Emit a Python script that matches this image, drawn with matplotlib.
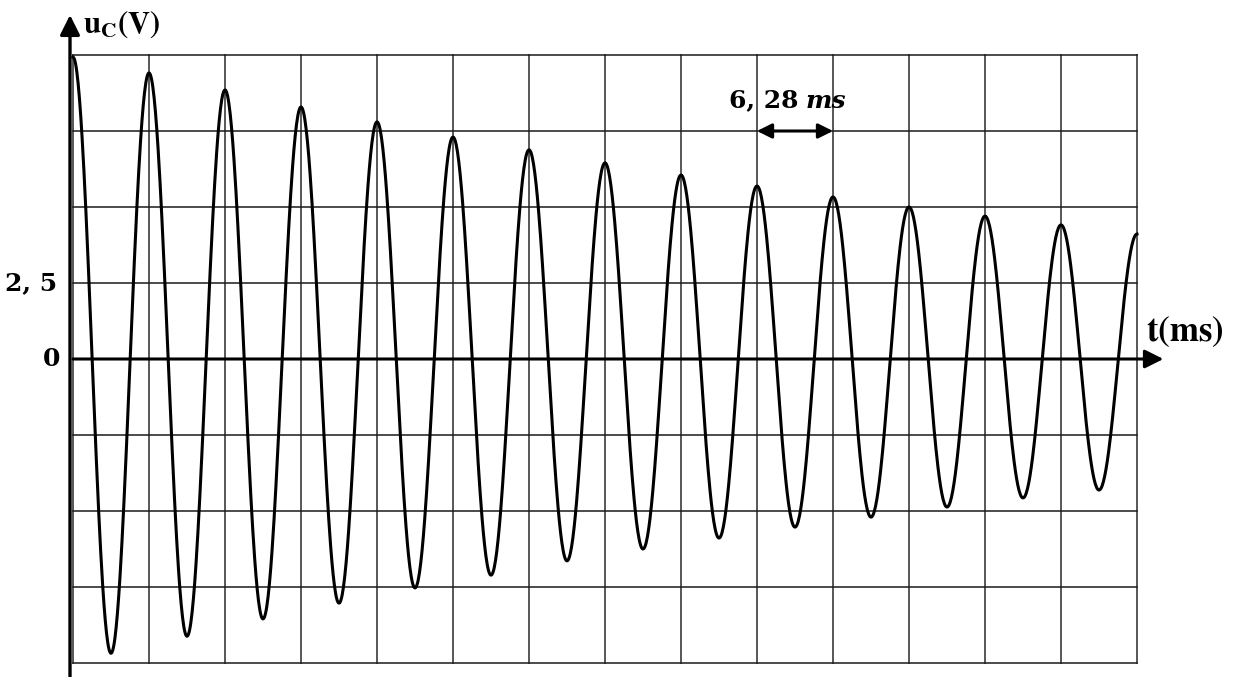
#==========================================================================
# Damped oscillation u_C(t) on a graph-paper grid
#==========================================================================
import numpy as np
import matplotlib.pyplot as plt

plt.rcParams['mathtext.fontset'] = 'stix'

# values
half_period = 3.14          # ms, half of 6,28 ms
peaks_v = [9.93, 9.41, 8.85, 8.29, 7.80, 7.30, 6.88, 6.45, 6.05, 5.69, 5.33, 5.00, 4.70, 4.41, 4.11]
troughs_v = [-9.68, -9.12, -8.55, -8.03, -7.53, -7.11, -6.64, -6.25, -5.89, -5.53, -5.20, -4.87, -4.57, -4.31]
y_ticks = [0, 2.5]
y_tick_labels = ['0', '2, 5']

# extrema alternate: peak, trough, peak, ...
ext_v = []
for i in range(len(peaks_v)):
    ext_v.append(peaks_v[i])
    if i < len(troughs_v):
        ext_v.append(troughs_v[i])
ext_t = [k * half_period for k in range(len(ext_v))]

# smooth half-cosine link between consecutive extrema
t_curve, v_curve = [], []
for i in range(len(ext_v) - 1):
    tt = np.linspace(ext_t[i], ext_t[i + 1], 60)
    ph = np.pi * (tt - ext_t[i]) / (ext_t[i + 1] - ext_t[i])
    vv = (ext_v[i] + ext_v[i + 1]) / 2 + (ext_v[i] - ext_v[i + 1]) / 2 * np.cos(ph)
    t_curve.extend(tt)
    v_curve.extend(vv)

#%%
fig = plt.figure(figsize=(12.34, 6.77), dpi=100)
ax = fig.add_axes([0, 0, 1, 1])
sx = 6.28 / 76
sy = 2.5 / 76
ax.set_xlim(-73 * sx, (1234 - 73) * sx)
ax.set_ylim(-(677 - 359) * sy, 359 * sy)
ax.axis('off')

t_end = 14 * 6.28
# grid
for k in range(15):
    ax.plot([k * 6.28, k * 6.28], [-10, 10], color='#4a4a4a', lw=1.3, zorder=1)
for y in np.arange(-10, 10.1, 2.5):
    ax.plot([0, t_end], [y, y], color='#1a1a1a', lw=1.1, zorder=1)

# curve
ax.plot(t_curve, v_curve, color='black', lw=2.2, zorder=3)

# axes with arrows
x0 = -3 * sx
ax.annotate('', xy=(90.1, 0), xytext=(0, 0),
            arrowprops=dict(arrowstyle='-|>', lw=2.2, color='black', mutation_scale=28,
                            shrinkA=0, shrinkB=0), zorder=4)
ax.annotate('', xy=(x0, 344 * sy), xytext=(x0, -(677 - 359) * sy),
            arrowprops=dict(arrowstyle='-|>', lw=2.4, color='black', mutation_scale=30,
                            shrinkA=0, shrinkB=0), zorder=4)

# 6,28 ms marker
ax.annotate('', xy=(9 * 6.28, 7.5), xytext=(10 * 6.28, 7.5),
            arrowprops=dict(arrowstyle='<|-|>', lw=2.2, color='black', mutation_scale=22,
                            shrinkA=0, shrinkB=0), zorder=4)
ax.text(54.2, 8.5, '6, 28', ha='left', va='center', fontsize=18,
        family='DejaVu Serif', fontweight='bold')
ax.text(60.5, 8.5, 'ms', ha='left', va='center', fontsize=18,
        family='DejaVu Serif', fontweight='bold', style='italic')

# labels
ax.text(-13 * sx, y_ticks[0], y_tick_labels[0], ha='right', va='center', fontsize=18,
        family='DejaVu Serif', fontweight='bold')
ax.text(-16 * sx, y_ticks[1], y_tick_labels[1], ha='right', va='center', fontsize=18,
        family='DejaVu Serif', fontweight='bold')
ax.text(0.85, 11.0, r'$\mathbf{u}_{\mathbf{C}}\mathbf{(V)}$', ha='left', va='center', fontsize=22)
ax.text(88.7, 0.9, r'$\mathbf{t(ms)}$', ha='left', va='center', fontsize=25)

plt.savefig('out.png', dpi=100)
